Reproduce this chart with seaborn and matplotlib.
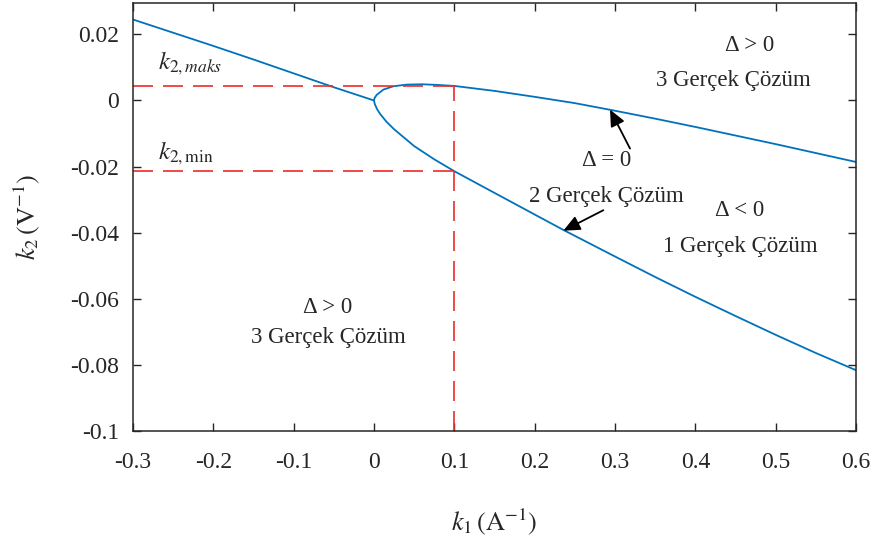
import matplotlib
matplotlib.use("Agg")
import matplotlib.pyplot as plt
import seaborn as sns
import pandas as pd

# ---- data ----
left_k1 = [-0.30, -0.25, -0.20, -0.15, -0.10, -0.05, 0.0]
left_k2 = [0.0245, 0.0205, 0.0165, 0.0124, 0.0082, 0.0040, 0.0]

upper_k1 = [0.0, 0.0008, 0.0034, 0.0117, 0.0241, 0.0407, 0.06, 0.08, 0.10, 0.15, 0.20,
            0.25, 0.30, 0.35, 0.40, 0.45, 0.50, 0.55, 0.60]
upper_k2 = [0.0, 0.0008, 0.0017, 0.0033, 0.0043, 0.0048, 0.0049, 0.0047, 0.0044, 0.0029, 0.0011,
            -0.0008, -0.0031, -0.0055, -0.0080, -0.0106, -0.0132, -0.0159, -0.0186]

lower_k1 = [0.0, 0.001, 0.004, 0.008, 0.0158, 0.025, 0.05, 0.075, 0.10, 0.132, 0.20,
            0.236, 0.30, 0.35, 0.40, 0.45, 0.50, 0.55, 0.60]
lower_k2 = [0.0, -0.0011, -0.0027, -0.0042, -0.0065, -0.0087, -0.0138, -0.0178, -0.0214, -0.0256, -0.0345,
            -0.0392, -0.0472, -0.0534, -0.0594, -0.0652, -0.0709, -0.0764, -0.0816]

k1_ref = 0.1
k2_max = 0.0044
k2_min = -0.0214

x_ticks = [-0.3, -0.2, -0.1, 0.0, 0.1, 0.2, 0.3, 0.4, 0.5, 0.6]
x_tick_labels = ['-0.3', '-0.2', '-0.1', '0', '0.1', '0.2', '0.3', '0.4', '0.5', '0.6']
y_ticks = [-0.1, -0.08, -0.06, -0.04, -0.02, 0.0, 0.02]
y_tick_labels = ['-0.1', '-0.08', '-0.06', '-0.04', '-0.02', '0', '0.02']

# ---- style ----
sns.set_style("ticks")
plt.rcParams['font.family'] = ['Liberation Serif', 'DejaVu Serif']
plt.rcParams['mathtext.fontset'] = 'stix'
plt.rcParams['axes.unicode_minus'] = False

fig = plt.figure(figsize=(8.85, 5.42), dpi=100)
ax = fig.add_axes([0.1503, 0.2048, 0.8169, 0.7897])

blue = '#0072BD'
red = '#EE2A2A'

df_left = pd.DataFrame({'k1': left_k1, 'k2': left_k2})
df_curve = pd.DataFrame({'k1': upper_k1[::-1] + lower_k1[1:], 'k2': upper_k2[::-1] + lower_k2[1:]})
sns.lineplot(data=df_left, x='k1', y='k2', sort=False, estimator=None, color=blue, lw=1.3, ax=ax)
sns.lineplot(data=df_curve, x='k1', y='k2', sort=False, estimator=None, color=blue, lw=1.3, ax=ax)

dash = (0, (12, 6))
ax.plot([-0.3, k1_ref], [k2_max, k2_max], color=red, lw=1.2, ls=dash)
ax.plot([-0.3, k1_ref], [k2_min, k2_min], color=red, lw=1.2, ls=dash)
ax.plot([k1_ref, k1_ref], [-0.1, k2_max], color=red, lw=1.2, ls=dash)

ax.set_xlim(-0.3, 0.6)
ax.set_ylim(-0.1, 0.0295)
ax.set_xticks(x_ticks)
ax.set_xticklabels(x_tick_labels)
ax.set_yticks(y_ticks)
ax.set_yticklabels(y_tick_labels)
ax.tick_params(axis='both', direction='in', length=6, width=1.0, color='#262626',
               labelcolor='#262626', labelsize=17, top=True, right=True)
ax.tick_params(axis='x', pad=15)
ax.tick_params(axis='y', pad=10)
for s in ax.spines.values():
    s.set_color('#262626')
    s.set_linewidth(1.1)
    s.set_visible(True)

ax.set_xlabel(r'$k_1\,(\mathrm{A}^{-1})$', fontsize=19, labelpad=24)
ax.set_ylabel(r'$k_2\,(\mathrm{V}^{-1})$', fontsize=19, labelpad=20)

fs = 16.5
ax.text(0.468, 0.0167, 'Δ > 0', fontsize=fs, ha='center', va='center')
ax.text(0.448, 0.0060, '3 Gerçek Çözüm', fontsize=fs, ha='center', va='center')
ax.text(0.2897, -0.0181, 'Δ = 0', fontsize=fs, ha='center', va='center')
ax.text(0.2897, -0.0292, '2 Gerçek Çözüm', fontsize=fs, ha='center', va='center')
ax.text(0.4555, -0.0332, 'Δ < 0', fontsize=fs, ha='center', va='center')
ax.text(0.4555, -0.0443, '1 Gerçek Çözüm', fontsize=fs, ha='center', va='center')
ax.text(-0.0573, -0.0625, 'Δ > 0', fontsize=fs, ha='center', va='center')
ax.text(-0.0573, -0.0716, '3 Gerçek Çözüm', fontsize=fs, ha='center', va='center')
ax.text(-0.2689, 0.0112, r'$k_{2,maks}$', fontsize=18, ha='left', va='center')
ax.text(-0.2689, -0.0160, r'$k_{2,\mathrm{min}}$', fontsize=18, ha='left', va='center')

arrowprops = dict(arrowstyle='-|>,head_length=1.0,head_width=0.45', color='black', lw=1.3,
                  shrinkA=0, shrinkB=0)
ax.annotate('', xy=(0.2938, -0.00275), xytext=(0.3187, -0.01454), arrowprops=arrowprops)
ax.annotate('', xy=(0.2357, -0.0394), xytext=(0.2855, -0.0332), arrowprops=arrowprops)

fig.savefig('out.png', dpi=100)
